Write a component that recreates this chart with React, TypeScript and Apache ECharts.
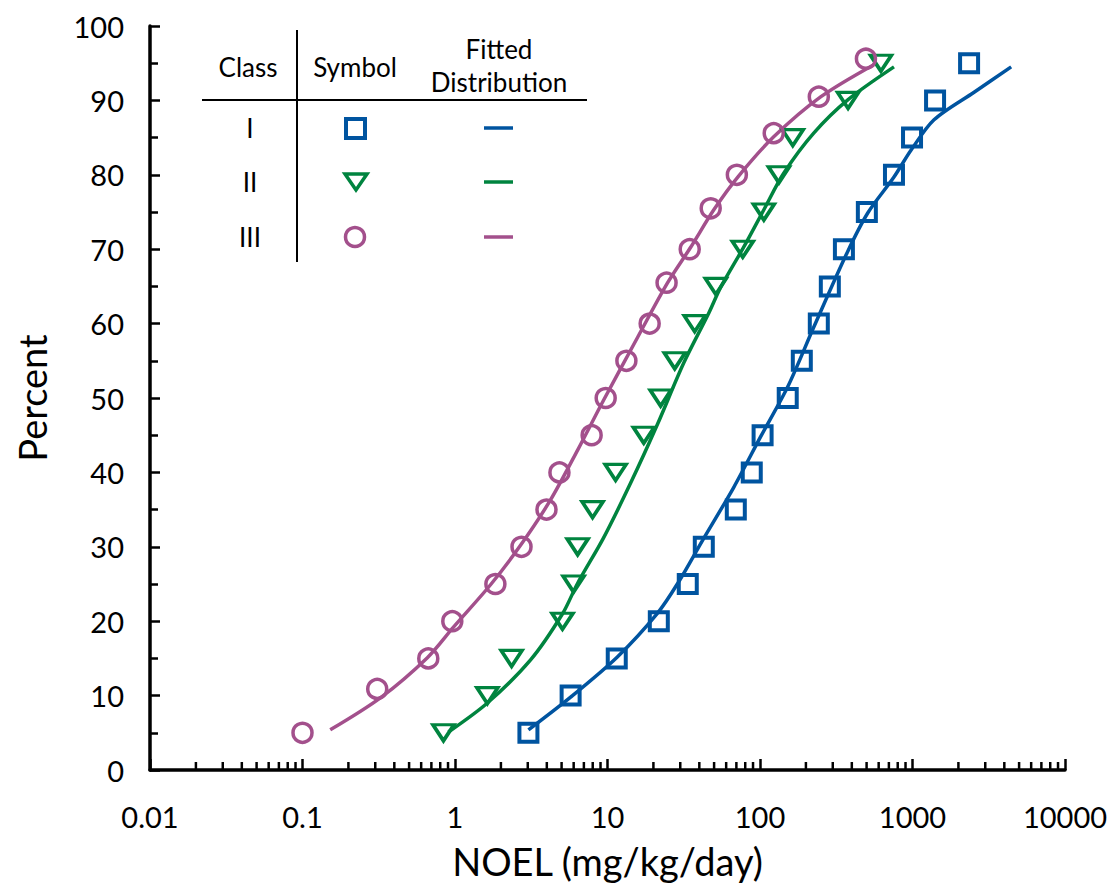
import React, { useEffect, useRef } from "react";
import * as echarts from "echarts";

// ---- Axis ticks ----
const xTickLabels = ["0.01", "0.1", "1", "10", "100", "1000", "10000"];
const xDecades = [0.01, 0.1, 1, 10, 100, 1000];
const xMinorMultipliers = [2, 3, 4, 5, 6, 7, 8, 9];

// ---- Class I (observed) ----
const classIX = [3.03, 5.73, 11.5, 21.7, 33.6, 42.8, 69.4, 88.3, 104, 152, 188, 243, 287, 355, 502, 756, 993, 1406, 2350];
const classIY = [5, 10, 15, 20, 25, 30, 35, 40, 45, 50, 55, 60, 65, 70, 75, 80, 85, 90, 95];
// ---- Class II (observed) ----
const classIIX = [0.84, 1.63, 2.35, 5.07, 5.99, 6.37, 7.98, 11.3, 17.3, 22.3, 27.6, 37.3, 51.3, 77.1, 106, 133, 164, 378, 621];
const classIIY = [5, 10, 15, 20, 25, 30, 35, 40, 45, 50, 55, 60, 65, 70, 75, 80, 85, 90, 95];
// ---- Class III (observed) ----
const classIIIX = [0.1, 0.309, 0.668, 0.96, 1.84, 2.73, 3.98, 4.84, 7.87, 9.73, 13.3, 18.9, 24.4, 34.6, 47.5, 70.5, 123, 243, 495];
const classIIIY = [5, 10.9, 15, 20, 25, 30, 35, 40, 45, 50, 55, 60, 65.5, 70, 75.5, 80, 85.6, 90.5, 95.6];

// ---- Fitted distributions ----
const fitIX = [3.03, 5.73, 11.6, 21.3, 28.9, 42.1, 67.3, 101, 152, 225, 372, 510, 756, 977, 1384, 2535, 4436];
const fitIY = [5.4, 9.8, 15.2, 21.1, 25.1, 30.9, 38.0, 44.8, 51.5, 59.5, 69.5, 74.9, 79.7, 83.3, 87.4, 91.1, 94.5];
const fitIIX = [0.906, 1.63, 3.13, 5.07, 6.37, 9.42, 14.2, 21.3, 31.6, 46.1, 55.3, 78.3, 106, 143, 225, 378, 756];
const fitIIY = [5.1, 9.0, 14.8, 21.0, 25.1, 31.2, 38.6, 46.5, 54.7, 61.4, 64.9, 70.3, 75.3, 80.2, 85.6, 90.1, 94.5];
const fitIIIX = [0.152, 0.324, 0.659, 0.977, 1.71, 2.69, 4.23, 6.37, 9.42, 15.8, 24.8, 35.2, 49.8, 71.5, 123, 251, 558];
const fitIIIY = [5.4, 9.7, 15.1, 19.2, 24.9, 30.2, 36.3, 43.0, 49.7, 58.2, 65.5, 70.3, 75.3, 79.7, 85.1, 90.5, 94.8];

const classNames = ["I", "II", "III"];
const BLUE = "#0054A0";
const GREEN = "#00843F";
const MAGENTA = "#A3508C";
const FONT = "Lato";

const zip = (xs: number[], ys: number[]) => xs.map((x, i) => [x, ys[i]]);

export default function App() {
  const ref = useRef<HTMLDivElement>(null);
  useEffect(() => {
    if (!ref.current) return;
    const chart = echarts.init(ref.current, null, { renderer: "svg" });
    const minorTicks: number[][] = [];
    xDecades.forEach((d) => xMinorMultipliers.forEach((m) => minorTicks.push([d * m, 0])));

    const lineBase = (name: string, data: number[][], color: string) => ({
      name,
      type: "line",
      data,
      showSymbol: false,
      smooth: 0.3,
      z: 2,
      lineStyle: { color, width: 3.5 },
    });
    const hollow = (color: string, bw: number) => ({ color: "rgba(0,0,0,0)", borderColor: color, borderWidth: bw, opacity: 1 });

    const textStyle = (text: string, x: number, y: number) => ({
      type: "text",
      x,
      y,
      style: { text, fill: "#000", fontSize: 26, fontFamily: FONT, align: "center", verticalAlign: "middle" },
    });
    const rowY = [128, 182, 237];
    const colors = [BLUE, GREEN, MAGENTA];

    const graphics: any[] = [
      textStyle("Class", 248, 67),
      textStyle("Symbol", 355, 67),
      textStyle("Fitted", 499, 49),
      textStyle("Distribution", 499, 82),
      { type: "line", shape: { x1: 202, y1: 100, x2: 587, y2: 100 }, style: { stroke: "#000", lineWidth: 2 } },
      { type: "line", shape: { x1: 297, y1: 30, x2: 297, y2: 262 }, style: { stroke: "#000", lineWidth: 2 } },
      { type: "rect", shape: { x: 346, y: 119, width: 19, height: 19 }, style: { fill: "none", stroke: BLUE, lineWidth: 4 } },
      { type: "polygon", shape: { points: [[345, 174], [367, 174], [356, 190]] }, style: { fill: "none", stroke: GREEN, lineWidth: 3.5 } },
      { type: "circle", shape: { cx: 355, cy: 237, r: 9.5 }, style: { fill: "none", stroke: MAGENTA, lineWidth: 3.5 } },
      { type: "text", x: 32, y: 398, rotation: Math.PI / 2, style: { text: "Percent", fill: "#000", fontSize: 38, fontFamily: FONT, align: "center", verticalAlign: "middle" } },
    ];
    classNames.forEach((c, i) => {
      graphics.push(textStyle(c, 250, rowY[i]));
      graphics.push({ type: "line", shape: { x1: 484, y1: rowY[i], x2: 513, y2: rowY[i] }, style: { stroke: colors[i], lineWidth: 3.5 } });
    });

    chart.setOption({
      animation: false,
      backgroundColor: "#fff",
      grid: { left: 150, right: 55, top: 26, bottom: 126, containLabel: false, outerBoundsMode: "none" },
      xAxis: {
        type: "log",
        logBase: 10,
        min: 0.01,
        max: 10000,
        splitNumber: 6,
        name: "NOEL (mg/kg/day)",
        nameLocation: "middle",
        nameGap: 72,
        nameTextStyle: { fontSize: 38, fontFamily: FONT, color: "#000" },
        axisLine: { show: true, onZero: false, lineStyle: { color: "#000", width: 3.5 } },
        axisTick: { show: true, inside: true, length: 11, lineStyle: { color: "#000", width: 2.5 } },
        axisLabel: {
          show: true,
          margin: 32,
          fontSize: 29,
          fontFamily: FONT,
          color: "#000",
          showMinLabel: true,
          showMaxLabel: true,
          formatter: (_v: number, i: number) => xTickLabels[i] ?? "",
        },
        splitLine: { show: false },
      },
      yAxis: {
        type: "value",
        min: 0,
        max: 100,
        interval: 10,
        axisLine: { show: true, lineStyle: { color: "#000", width: 3.5 } },
        axisTick: { show: true, inside: true, length: 10, lineStyle: { color: "#000", width: 2.5 } },
        minorTick: { show: true, splitNumber: 2, length: 8, lineStyle: { color: "#000", width: 2.5 } },
        axisLabel: { margin: 26, fontSize: 29, fontFamily: FONT, color: "#000" },
        splitLine: { show: false },
        minorSplitLine: { show: false },
      },
      graphic: graphics,
      series: [
        {
          type: "custom",
          silent: true,
          clip: false,
          data: minorTicks,
          renderItem: (_p: any, api: any) => {
            const pt = api.coord([api.value(0), 0]);
            return {
              type: "line",
              shape: { x1: pt[0], y1: pt[1], x2: pt[0], y2: pt[1] - 8 },
              style: { stroke: "#000", lineWidth: 2.5 },
            };
          },
        },
        lineBase("Class I fit", zip(fitIX, fitIY), BLUE),
        lineBase("Class II fit", zip(fitIIX, fitIIY), GREEN),
        lineBase("Class III fit", zip(fitIIIX, fitIIIY), MAGENTA),
        { name: "Class I", type: "scatter", z: 3, data: zip(classIX, classIY), symbol: "rect", symbolSize: 18, itemStyle: hollow(BLUE, 4) },
        { name: "Class II", type: "scatter", z: 3, data: zip(classIIX, classIIY), symbol: "triangle", symbolRotate: 180, symbolSize: [21, 16], itemStyle: hollow(GREEN, 3.5) },
        { name: "Class III", type: "scatter", z: 3, data: zip(classIIIX, classIIIY), symbol: "circle", symbolSize: 19, itemStyle: hollow(MAGENTA, 3.5) },
      ],
    });
    return () => chart.dispose();
  }, []);
  return <div ref={ref} style={{ position: "absolute", left: 0, top: 0, width: 1120, height: 896 }} />;
}
